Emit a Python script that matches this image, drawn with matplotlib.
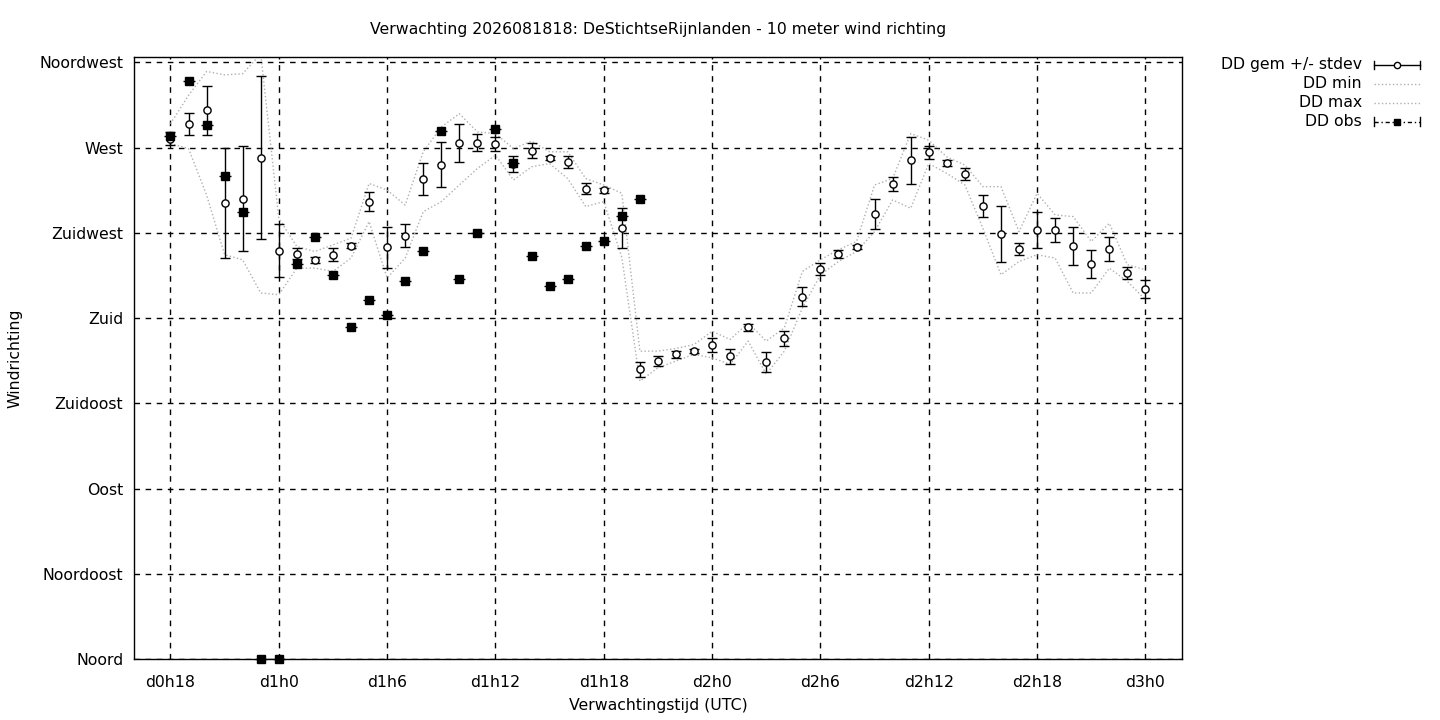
import numpy as np
import matplotlib.pyplot as plt
from matplotlib.lines import Line2D

plt.rcParams['font.family'] = 'DejaVu Sans'
plt.rcParams['font.size'] = 11.3

# forecast hours since d0h0
hours = list(range(18, 73))
dd_mean = [274.8, 282.5, 289.7, 240.8, 243.1, 264.6, 215.7, 214.1, 210.8, 213.6,
           218.3, 241.5, 217.3, 223.6, 253.6, 260.9, 272.5, 272.5, 272.0, 261.3,
           268.3, 264.6, 262.4, 248.2, 247.4, 227.7, 153.0, 157.4, 160.9, 162.6,
           165.6, 159.8, 175.1, 156.7, 169.3, 191.4, 206.1, 214.0, 217.7, 235.1,
           250.8, 263.4, 267.6, 261.8, 256.2, 239.2, 224.5, 216.6, 226.6, 226.6,
           218.2, 208.7, 216.6, 204.0, 195.6]
dd_std = [3.5, 6.0, 12.8, 29.0, 27.5, 43.0, 13.8, 2.8, 1.5, 3.4,
          1.5, 5.2, 11.0, 6.0, 8.4, 11.9, 10.0, 4.5, 3.6, 4.2,
          4.0, 1.0, 3.3, 2.9, 1.5, 10.4, 4.1, 2.5, 2.0, 1.0,
          3.7, 3.9, 2.0, 5.3, 4.0, 5.2, 3.1, 2.0, 1.0, 7.8,
          3.7, 12.4, 3.5, 1.5, 3.2, 5.7, 14.7, 3.0, 9.5, 6.5,
          10.0, 7.5, 6.3, 3.2, 4.7]
dd_min = [272.1, 269.5, 245.0, 213.5, 210.8, 193.3, 192.4, 206.4, 206.4, 204.7,
          211.7, 231.0, 201.2, 211.7, 236.2, 241.5, 250.3, 259.0, 266.0, 252.9,
          259.9, 261.6, 253.7, 238.9, 241.5, 212.0, 146.8, 153.8, 157.4, 160.9,
          159.1, 155.6, 167.9, 150.4, 162.6, 185.4, 202.9, 209.9, 215.2, 225.7,
          242.4, 238.0, 261.6, 256.4, 250.3, 227.4, 202.9, 209.9, 213.5, 211.7,
          193.3, 193.3, 206.4, 199.4, 189.8]
dd_max = [282.6, 297.6, 310.2, 308.4, 309.0, 319.5, 232.7, 217.8, 215.2, 218.7,
          222.2, 251.1, 247.6, 239.7, 267.8, 280.9, 287.9, 278.3, 277.4, 269.5,
          273.4, 267.8, 267.8, 253.7, 250.3, 245.9, 162.6, 162.6, 164.0, 166.1,
          173.1, 168.8, 177.5, 167.9, 174.9, 204.7, 210.8, 216.1, 220.5, 250.3,
          253.7, 277.4, 273.9, 265.1, 260.8, 249.4, 249.4, 225.7, 245.9, 234.5,
          233.6, 220.5, 230.1, 208.2, 205.6]
obs_hours = list(range(18, 45))
dd_obs = [276.0, 305.0, 282.0, 255.0, 236.1, 0.0, 0.0, 208.5, 223.1, 202.9,
          175.2, 189.4, 181.9, 199.4, 215.2, 278.7, 200.8, 225.0, 279.9, 262.0,
          212.9, 197.2, 200.8, 218.2, 220.8, 234.0, 242.9]

xtick_pos = [18, 24, 30, 36, 42, 48, 54, 60, 66, 72]
xtick_labels = ["d0h18", "d1h0", "d1h6", "d1h12", "d1h18",
                "d2h0", "d2h6", "d2h12", "d2h18", "d3h0"]
ytick_pos = [0, 45, 90, 135, 180, 225, 270, 315]
ytick_labels = ["Noord", "Noordoost", "Oost", "Zuidoost",
                "Zuid", "Zuidwest", "West", "Noordwest"]

fig = plt.figure(figsize=(14.4, 7.2), dpi=100)
ax = fig.add_axes([0.0933, 0.0843, 0.7272, 0.837])

env_col = "#b0b0b0"
ax.plot(hours, dd_min, ls=":", color=env_col, lw=1.0, zorder=2)
ax.plot(hours, dd_max, ls=":", color=env_col, lw=1.0, zorder=2)
ax.errorbar(hours, dd_mean, yerr=dd_std, fmt="o", color="black", mfc="white",
            mec="black", ms=5.2, mew=1.0, elinewidth=1.0, capsize=3.5, capthick=1.0,
            zorder=4)
ax.plot(obs_hours, dd_obs, ls="none", marker="_", color="black", ms=8, mew=1.0,
        clip_on=False, zorder=5)
ax.plot(obs_hours, dd_obs, ls="none", marker="s", color="black", ms=5.5,
        clip_on=False, zorder=5)

ax.set_xlim(16, 74)
ax.set_ylim(0, 318)
ax.set_xticks(xtick_pos)
ax.set_xticklabels(xtick_labels)
ax.set_yticks(ytick_pos)
ax.set_yticklabels(ytick_labels)
ax.tick_params(axis="x", length=0, pad=11)
ax.tick_params(axis="y", length=0, pad=8)
ax.grid(True, color="black", ls=(0, (4, 4)), lw=1.0)
for s in ax.spines.values():
    s.set_linewidth(1.0)

ax.set_xlabel("Verwachtingstijd (UTC)", labelpad=6)
ax.set_ylabel("Windrichting", labelpad=12)
ax.set_title("Verwachting 2026081818: DeStichtseRijnlanden - 10 meter wind richting",
             fontsize=11.3, pad=16)

# legend, gnuplot style: text right aligned, sample on the right
names = ["DD gem +/- stdev", "DD min", "DD max", "DD obs"]
rows_y = [65, 84, 102.5, 121.5]
tx = 1362 / 1440
x0, x1 = 1374 / 1440, 1420 / 1440
xm = (x0 + x1) / 2
for name, py in zip(names, rows_y):
    fy = 1 - py / 720
    fig.text(tx, fy, name, ha="right", va="center", fontsize=11.3)
    if name == "DD gem +/- stdev":
        fig.add_artist(Line2D([x0, x1], [fy, fy], color="black", lw=1.0))
        fig.add_artist(Line2D([x0, x0], [fy - 0.006, fy + 0.006], color="black", lw=1.0))
        fig.add_artist(Line2D([x1, x1], [fy - 0.006, fy + 0.006], color="black", lw=1.0))
        fig.add_artist(Line2D([xm], [fy], marker="o", mfc="white", mec="black",
                              ms=4.5, ls="none"))
    elif name == "DD obs":
        fig.add_artist(Line2D([x0, x1], [fy, fy], color="black", lw=1.0,
                              ls=(0, (3, 2, 1, 2))))
        fig.add_artist(Line2D([x0, x0], [fy - 0.006, fy + 0.006], color="black", lw=1.0))
        fig.add_artist(Line2D([x1, x1], [fy - 0.006, fy + 0.006], color="black", lw=1.0))
        fig.add_artist(Line2D([xm], [fy], marker="s", color="black", ms=5, ls="none"))
    else:
        fig.add_artist(Line2D([x0, x1], [fy, fy], color=env_col, lw=1.0, ls=":"))

fig.savefig("out.png", dpi=100)
